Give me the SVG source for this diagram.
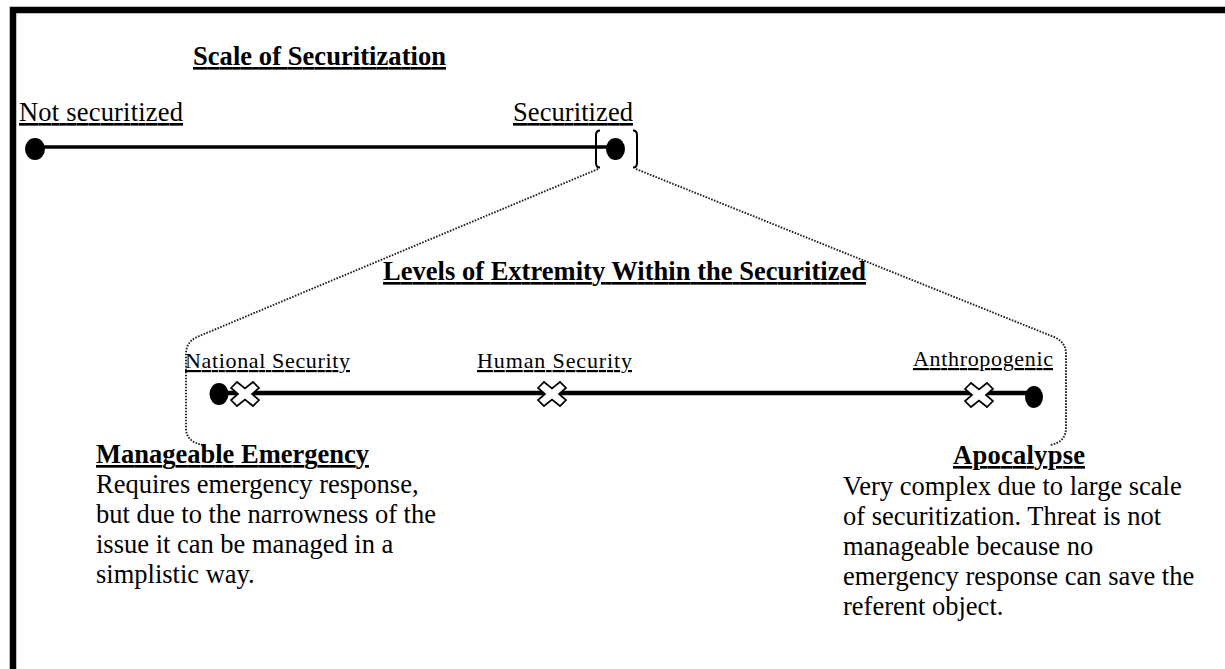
<svg xmlns="http://www.w3.org/2000/svg" width="1225" height="669" viewBox="0 0 1225 669">
<style>
text{font-family:"Liberation Serif","Times New Roman",serif;fill:#000}
.h{font-weight:bold;font-size:26.5px;text-decoration:underline}
.lbl{font-size:26.5px;text-decoration:underline}
.sm{font-size:22px;text-decoration:underline}
.body{font-size:26.5px}
.dot{fill:none;stroke:#222;stroke-width:1.9;stroke-dasharray:1.6 1.4}
.x{fill:#fff;stroke:#000;stroke-width:1.7}
</style>
<defs>
<polygon id="cross" points="-14,-6 -8,-12 0,-5.5 8,-12 14,-6 7,0 14,6 8,12 0,5.5 -8,12 -14,6 -7,0"/>
</defs>
<rect width="1225" height="669" fill="#fff"/>
<path d="M13,669 V10 H1225" fill="none" stroke="#000" stroke-width="6.5"/>
<g id="title"><text class="h" x="193" y="65" textLength="253">Scale of Securitization</text></g>
<g id="scale">
<line x1="35" y1="147" x2="615" y2="147" stroke="#000" stroke-width="3.3"/>
<ellipse cx="35" cy="149" rx="10" ry="11"/>
<ellipse cx="615.5" cy="149" rx="9.5" ry="11"/>
<path d="M600,130.5 Q596,130.5 596,135 V163 Q596,167.5 600,167.5" fill="none" stroke="#000" stroke-width="2"/>
<path d="M633,130.5 Q637,130.5 637,135 V163 Q637,167.5 633,167.5" fill="none" stroke="#000" stroke-width="2"/>
</g>
<g id="not-securitized"><text class="lbl" x="19" y="121" textLength="164">Not securitized</text></g>
<g id="securitized"><text class="lbl" x="513" y="121" textLength="120">Securitized</text></g>
<g id="connectors">
<path class="dot" d="M598,169 L197,337 Q186,342 186,354 V428 Q186,442 203,445"/>
<path class="dot" d="M636,169 L1054,337 Q1066,342 1066,354 V428 Q1066,442 1050,445"/>
</g>
<g id="levels-title"><text class="h" x="383" y="280" textLength="483">Levels of Extremity Within the Securitized</text></g>
<g id="extremity">
<line x1="219" y1="393" x2="1034" y2="393" stroke="#000" stroke-width="4.5"/>
<ellipse cx="219" cy="394" rx="9.5" ry="11"/>
<ellipse cx="1034" cy="397" rx="9" ry="11"/>
<use href="#cross" class="x" x="245" y="394"/>
<use href="#cross" class="x" x="552" y="394"/>
<use href="#cross" class="x" x="979" y="395"/>
</g>
<g id="national"><text class="sm" x="185" y="368" textLength="165">National Security</text></g>
<g id="human"><text class="sm" x="477" y="368" textLength="155">Human Security</text></g>
<g id="anthro"><text class="sm" x="913" y="366" textLength="140">Anthropogenic</text></g>
<g id="manageable">
<text class="h" x="96" y="463" textLength="273">Manageable Emergency</text>
<text class="body" x="96" y="493">Requires emergency response,</text>
<text class="body" x="96" y="523">but due to the narrowness of the</text>
<text class="body" x="96" y="553">issue it can be managed in a</text>
<text class="body" x="96" y="583">simplistic way.</text>
</g>
<g id="apocalypse">
<text class="h" x="953" y="464" textLength="132">Apocalypse</text>
<text class="body" x="843" y="495">Very complex due to large scale</text>
<text class="body" x="843" y="525">of securitization. Threat is not</text>
<text class="body" x="843" y="555">manageable because no</text>
<text class="body" x="843" y="585">emergency response can save the</text>
<text class="body" x="843" y="615">referent object.</text>
</g>
</svg>
